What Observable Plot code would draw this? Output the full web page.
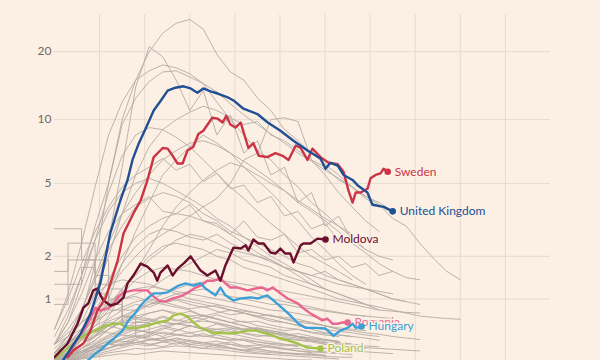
<!DOCTYPE html>
<html><head><meta charset="utf-8">
<script src="https://cdn.jsdelivr.net/npm/d3@7"></script>
<script src="https://cdn.jsdelivr.net/npm/@observablehq/plot@0.6"></script>
<style>
html,body{margin:0;padding:0;background:#fcf0e5;}
</style></head><body><div id="chart"></div>
<script>
// axis ticks
const yTicks = [1, 2, 5, 10, 20];
const xGrid = [10, 20, 30, 40, 50, 60, 70, 80, 90, 100];

// highlighted countries: days since start, daily deaths per million (7-day avg)
const ukDays = [1.8,4.0,5.8,8.0,10.2,12.4,14.6,16.2,17.3,18.6,20,22,23.6,25.1,26.8,28.6,30.2,31.7,33,34.6,36.2,38.4,39.7,41.9,45,47.3,50.1,53,56.1,59,60.1,61.2,62.8,64.1,66.1,67.2,69.4,70.5,73,75];
const ukValues = [0.11,0.28,0.44,0.74,1.34,2.76,4.1,5.2,6.5,7.7,8.9,11.0,12.2,13.5,13.9,14.1,13.8,13.2,13.8,13.4,13.1,12.6,12.2,11.2,10.6,9.7,8.9,8.0,7.2,6.6,5.9,6.3,6.1,5.5,5.2,4.9,4.5,3.9,3.8,3.6];

const swedenDays = [2.9,4.2,6.4,8.0,9.5,11.3,12.4,14.0,15.3,17.5,19.1,20.6,22.0,24.0,25.1,26.2,27.3,28.4,29.5,30.8,31.9,33.0,35.0,36.2,37.3,38.1,39.0,40.1,41.3,43.0,44.1,45.3,47.2,49.0,50.6,51.9,53.5,54.6,56.1,57.2,59.0,60.8,62.8,64.1,65.2,66.1,66.8,67.9,69.4,70.1,71.2,72.3,73.0,73.9];
const swedenValues = [0.15,0.225,0.31,0.48,0.79,1.01,1.32,1.88,2.73,3.51,4.1,5.17,6.7,7.4,7.35,6.8,6.25,6.25,7.2,7.5,8.6,8.9,10.2,10.1,9.7,10.4,9.5,9.2,9.7,7.4,7.8,6.8,6.7,7.0,6.8,6.5,7.6,7.4,6.5,7.35,6.7,6.3,6.2,5.7,4.6,4.0,4.5,4.5,4.7,5.3,5.5,5.6,5.9,5.7];

const moldovaDays = [0,2.9,5.1,6.4,7.5,8.6,9.5,10.2,10.9,12.4,14,15.3,16.2,17.5,19.1,20.6,22,22.8,23.5,25.1,26.2,27.3,28.6,30.2,31.3,32.4,33.9,35.7,36.8,37.9,39.7,41.3,42.4,43,44.1,45.2,46.4,47.9,49,50.1,51.2,52.3,53,54.6,55.2,56.8,58.3,60.1];
const moldovaValues = [0.15,0.31,0.58,0.84,0.92,1.17,1.21,1.07,0.97,0.88,0.92,1.03,1.32,1.50,1.80,1.72,1.57,1.38,1.57,1.75,1.50,1.67,1.80,2.0,1.80,1.62,1.50,1.62,1.38,1.75,2.26,2.23,2.33,2.17,2.52,2.39,2.39,2.11,2.08,2.23,2.08,2.08,1.83,2.33,2.39,2.39,2.55,2.52];

const romaniaDays = [2.9,4.2,5.3,6.4,7.5,8.6,9.1,10.2,11.8,12.9,14.0,15.3,17.5,20.6,21.7,23.1,24.6,26.2,27.9,29.7,31.3,32.4,33.9,35.3,36.8,37.9,39.0,40.6,42.8,44.6,46.1,47.2,48.4,50.1,51.7,53.9,55.2,56.8,58.3,59.4,60.5,61.7,62.8,63.9,65.0];
const romaniaValues = [0.15,0.28,0.39,0.48,0.60,0.76,0.84,0.79,0.83,0.88,1.03,1.13,1.17,1.17,1.07,0.97,0.95,1.01,1.05,1.13,1.23,1.27,1.38,1.38,1.43,1.32,1.23,1.23,1.17,1.21,1.23,1.17,1.23,1.11,1.01,0.92,0.83,0.74,0.68,0.63,0.66,0.58,0.58,0.60,0.60];

const hungaryDays = [7.3,8.6,10.6,11.8,13.1,15.1,16.4,18.0,19.1,20.6,22.0,23.5,25.1,26.4,27.5,29.1,30.8,32.4,33.5,35.7,36.8,37.9,39.7,41.3,43.5,45.2,47.2,48.6,50.6,52.3,54.1,55.7,57.9,60.1,61.9,63.4,65.0,66.1,66.8,68.1];
const hungaryValues = [0.11,0.17,0.25,0.31,0.37,0.48,0.63,0.76,0.88,1.01,1.11,1.11,1.13,1.21,1.27,1.32,1.27,1.32,1.21,1.07,1.23,1.07,0.97,1.01,1.03,1.01,1.07,0.97,0.83,0.71,0.58,0.52,0.52,0.51,0.41,0.48,0.52,0.58,0.52,0.54];

const polandDays = [0.2,2.9,5.1,7.3,9.1,11.3,12.9,14.6,16.2,18.4,20.6,22.8,25.1,26.4,27.9,29.5,30.8,32.4,33.9,35.3,36.8,39.0,40.6,42.8,44.6,46.4,48.6,50.1,51.7,53.9,56.1,59.0];
const polandValues = [0.14,0.25,0.35,0.44,0.48,0.55,0.58,0.58,0.52,0.52,0.55,0.60,0.63,0.71,0.74,0.69,0.60,0.52,0.48,0.44,0.45,0.44,0.45,0.48,0.48,0.45,0.41,0.37,0.35,0.31,0.26,0.25];

// other countries, one value every 3 days from day 0
const grayStep = 3;
const graySeries = [
  [0.15,0.3,0.7,1.8,5.0,10,15,20,24,26.5,27.5,25,19.5,16.3,15,12.5,11,9,8,7,6.2,5.5,4.8,4.3,3.9,3.3,3.0,2.4,1.95,1.6,1.4],
  [0.12,0.2,0.4,1.0,2.5,6,14,21,19,15,11,13.5,8.5,10.5,7,8,5.5,6,4,4.5,3,3.4,2.5,2.2],
  [0.3,0.7,1.5,3.0,5.0,9.5,12.5,14.8,16.3,16.5,15.5,14.5,13.3,11.8,10.5,9.5,8.6,7.8,7.0,6.4,5.8,5.3,4.8,4.3,4.0,3.6],
  [0.5,1.1,2.4,4.8,8.5,12,15,16.5,17.5,17,16,14.5,12,10,8.5,7.2,6.5,5.5,4.8,4.0,3.5,3.0,2.6],
  [0.2,0.35,0.6,1.1,2.0,3.5,5.5,7.5,9.0,10.0,10.8,11.5,11.0,10.2,9.5,9.8,8.5,8.0,7.2,6.5,6.0,5.2,4.8,4.2,3.8],
  [0.3,0.6,1.3,2.5,4.5,6.8,8.5,9.2,9.0,8.3,7.5,6.5,5.6,4.8,4.2,3.6,3.1,2.7,2.3,2.0,1.8,1.6,1.4],
  [0.15,0.2,0.35,0.6,1.0,1.8,2.8,4.0,5.5,6.5,7.5,8.5,7.8,7.0,6.0,5.2,4.5,3.8,3.2,2.6,2.2,1.8,1.5,1.3],
  [0.5,1.0,1.8,2.8,3.8,4.8,5.5,6.0,6.6,5.8,6.2,5.1,5.6,4.7,4.9,4.0,4.3,3.4,3.6,2.9,3.1,2.5,2.6,2.2,2.0,1.9],
  [0.2,0.4,0.8,1.5,2.4,3.5,4.5,5.5,6.5,7.2,7.8,8.0,7.6,7.0,6.4,5.8,5.2,4.6,4.1,3.7,3.3,3.0,2.7],
  [0.3,0.6,1.1,1.9,2.8,3.5,3.9,4.3,3.6,3.5,3.9,3.2,3.1,2.7,3.2,2.6,2.5,2.7,2.1,2.2,1.9,2.0,1.7,1.8,1.5,1.6,1.45,1.4],
  [0.2,0.3,0.5,0.8,1.2,1.6,2.0,2.4,2.7,3.0,3.4,3.8,4.2,5.0,6.5,7.0,10.0,10.2,9.8,6.5,5.5,4.5,3.8,3.2,2.8],
  [0.4,0.8,1.5,2.5,3.6,4.5,5.0,5.3,5.0,4.6,4.2,3.8,3.3,3.0,2.6,2.3,2.0,1.8,1.6,1.4,1.2,1.1,1.0,0.9,0.8],
  [0.2,0.4,0.8,1.4,2.2,3.0,3.8,4.2,4.5,4.3,4.0,3.5,3.2,2.8,2.6,2.4,2.2,2.0,1.8,1.7,1.5,1.4,1.3,1.2,1.1,1.0,0.95,0.9],
  [0.15,0.3,0.5,0.9,1.4,2.0,2.6,3.0,3.3,3.5,3.4,3.2,3.0,2.7,2.4,2.1,1.9,1.7,1.5,1.3,1.2,1.1,1.0,0.9,0.85,0.8,0.75,0.7,0.68,0.66,0.65],
  [0.1,0.2,0.4,0.7,1.2,1.8,2.3,2.7,2.9,2.8,2.6,2.5,2.7,2.4,2.2,2.0,1.9,1.7,1.6,1.5,1.6,1.4,1.3,1.2,1.1,1.0,0.95],
  [0.1,0.15,0.25,0.4,0.7,1.1,1.6,2.2,3.0,3.8,4.5,5.2,5.8,6.3,6.0,5.5,5.0,4.6,4.0,3.6,3.2,2.8,2.4,2.1,1.8,1.6],
  [0.1,0.15,0.25,0.35,0.5,0.6,0.7,0.75,0.8,0.75,0.7,0.72,0.65,0.6,0.55,0.5,0.48,0.45,0.4,0.38,0.35,0.33,0.3],
  [0.12,0.2,0.3,0.45,0.55,0.5,0.6,0.65,0.55,0.5,0.45,0.4,0.42,0.38,0.35,0.3,0.28,0.25,0.22,0.2],
  [0.15,0.3,0.5,0.7,0.9,1.0,1.05,0.95,0.9,0.85,0.8,0.7,0.65,0.6,0.55,0.5,0.45,0.42,0.4,0.35,0.3,0.28],
  [0.1,0.12,0.18,0.25,0.3,0.38,0.45,0.5,0.55,0.58,0.6,0.62,0.6,0.55,0.5,0.52,0.48,0.44,0.4,0.36,0.33,0.3,0.27,0.25],
  [0.2,0.35,0.4,0.5,0.45,0.42,0.4,0.36,0.38,0.33,0.3,0.32,0.28,0.25,0.22,0.2,0.18],
  [0.1,0.18,0.3,0.42,0.55,0.7,0.8,0.9,0.95,1.0,0.95,0.9,0.85,0.8,0.75,0.7,0.65,0.6,0.55,0.5,0.45,0.42,0.4,0.38,0.35],
  [0.12,0.16,0.22,0.28,0.33,0.36,0.4,0.38,0.35,0.37,0.33,0.3,0.28,0.3,0.26,0.24,0.22,0.2,0.19,0.18,0.17],
  [0.3,0.5,0.8,1.1,1.3,1.4,1.35,1.3,1.2,1.1,1.0,0.95,0.9,0.85,0.8,0.75,0.7,0.66,0.62,0.6,0.55,0.52,0.5,0.48],
  [0.1,0.13,0.17,0.22,0.26,0.3,0.32,0.35,0.38,0.42,0.45,0.48,0.5,0.52,0.5,0.47,0.45,0.43,0.4,0.38,0.36,0.33],
  [0.15,0.25,0.38,0.5,0.62,0.7,0.68,0.66,0.6,0.58,0.55,0.5,0.47,0.44,0.4,0.36,0.33,0.3,0.27],
  [0.1,0.2,0.35,0.55,0.8,1.1,1.4,1.6,1.7,1.65,1.6,1.5,1.4,1.3,1.2,1.1,1.0,0.95,0.9,0.85,0.8,0.76,0.72,0.7,0.68,0.66],
  [0.25,0.4,0.6,0.8,0.95,1.1,1.2,1.25,1.2,1.15,1.1,1.05,1.0,0.95,0.9,0.85,0.8,0.78,0.74,0.7,0.65],
  [0.1,0.14,0.2,0.3,0.4,0.48,0.55,0.58,0.6,0.58,0.55,0.52,0.5,0.47,0.45,0.42,0.4,0.38,0.36,0.34,0.32,0.3,0.28,0.26,0.25,0.24,0.23,0.22],
  [0.18,0.28,0.4,0.6,0.85,1.2,1.6,2.0,2.3,2.4,2.3,2.2,2.0,1.9,1.7,1.6,1.5,1.4,1.3,1.2,1.1,1.0,0.95,0.9],
  [0.12,0.18,0.25,0.32,0.42,0.5,0.48,0.46,0.44,0.42,0.4,0.41,0.38,0.36,0.35,0.33,0.31,0.3,0.29,0.28],
  [0.2,0.3,0.45,0.65,0.9,1.2,1.5,1.9,2.2,2.5,2.7,2.6,2.4,2.2,2.1,2.0,1.85,1.7,1.6,1.5,1.4,1.3,1.25,1.2,1.15,1.1],
  [0.15,0.22,0.3,0.4,0.5,0.62,0.75,0.9,1.0,1.1,1.15,1.2,1.1,1.05,1.0,0.95,0.9,0.9,0.85,0.82,0.78,0.75,0.72,0.7],
  [0.1,0.15,0.25,0.35,0.5,0.65,0.8,0.95,1.1,1.2,1.3,1.35,1.4,1.35,1.3,1.25,1.2,1.15,1.1,1.05,1.0,0.95,0.9,0.85,0.8,0.78,0.76,0.75],
  [0.1,0.12,0.15,0.2,0.25,0.3,0.36,0.42,0.5,0.58,0.65,0.7,0.75,0.8,0.78,0.75,0.7,0.68,0.65,0.6,0.55,0.5],
  [0.3,0.45,0.6,0.75,0.9,1.0,1.1,1.2,1.4,1.6,1.8,2.0,2.2,2.1,1.9,1.8,1.7,1.5,1.4,1.3,1.2],
  [0.1,0.12,0.14,0.16,0.2,0.22,0.25,0.24,0.26,0.28,0.27,0.25,0.24,0.22,0.2,0.19,0.18,0.17,0.16,0.15,0.14,0.13],
  [0.1,0.11,0.13,0.15,0.17,0.19,0.18,0.2,0.22,0.21,0.2,0.19,0.18,0.17,0.16,0.15,0.14,0.13,0.12,0.12],
  [0.14,0.18,0.22,0.27,0.3,0.34,0.32,0.3,0.33,0.35,0.3,0.28,0.26,0.25,0.23,0.22,0.2,0.19,0.18,0.17,0.16,0.15,0.15],
  [0.1,0.15,0.2,0.24,0.3,0.28,0.35,0.3,0.27,0.32,0.28,0.25,0.3,0.26,0.23,0.25,0.21,0.2,0.18,0.19,0.17],
  [0.1,0.14,0.2,0.28,0.35,0.42,0.5,0.45,0.52,0.48,0.55,0.5,0.46,0.5,0.44,0.4,0.42,0.37,0.35,0.33,0.3,0.32,0.28,0.26],
  [0.12,0.2,0.3,0.4,0.55,0.7,0.65,0.75,0.8,0.72,0.78,0.7,0.66,0.6,0.62,0.55,0.52,0.48,0.5,0.45,0.42,0.4],
  [0.1,0.12,0.16,0.2,0.25,0.32,0.38,0.45,0.4,0.48,0.55,0.5,0.58,0.52,0.48,0.5,0.45,0.4,0.38,0.35,0.36,0.32,0.3,0.28,0.27],
  [0.15,0.25,0.35,0.48,0.6,0.58,0.66,0.62,0.7,0.64,0.6,0.65,0.58,0.55,0.5,0.52,0.46,0.42,0.44,0.4,0.36,0.34],
  [0.1,0.11,0.14,0.18,0.22,0.26,0.3,0.28,0.33,0.3,0.35,0.32,0.3,0.33,0.28,0.26,0.27,0.24,0.22,0.21,0.2,0.19,0.18],
  [0.2,0.3,0.42,0.55,0.65,0.8,0.9,0.85,0.95,0.88,0.82,0.86,0.78,0.72,0.75,0.68,0.62,0.6,0.56,0.52,0.5,0.47,0.45,0.42,0.4],
  [0.1,0.13,0.18,0.24,0.3,0.36,0.42,0.4,0.46,0.43,0.4,0.44,0.38,0.35,0.37,0.33,0.3,0.28,0.29,0.26,0.25,0.23,0.22,0.21,0.2,0.19],
  [0.3,0.4,0.5,0.62,0.75,0.85,0.95,1.0,0.92,0.98,0.9,0.85,0.88,0.8,0.75,0.7,0.72,0.65,0.6,0.58,0.55,0.5,0.48,0.45,0.43,0.4,0.38,0.36],
  [0.1,0.15,0.22,0.3,0.38,0.45,0.52,0.6,0.68,0.62,0.7,0.65,0.72,0.66,0.6,0.62,0.56,0.52,0.5,0.46,0.44,0.42,0.4],
  [0.12,0.16,0.2,0.25,0.3,0.28,0.32,0.36,0.34,0.38,0.35,0.32,0.34,0.3,0.28,0.29,0.26,0.24,0.25,0.22,0.21,0.2]
];
// small countries reported in steps
const stepSeries = [
  [2.9,2.9,1.9,1.9,1.2,0.8,0.6,0.4],
  [1.6,2.4,2.4,1.5,1.0,0.7,0.5],
  [1.3,1.3,1.7,1.1,0.8,0.55,0.4],
  [0.9,1.9,1.9,1.3,0.9,0.6,0.45]
];

const bg = "#fcf0e5";
const grayColor = "#b4aba4";

const toRows = (arr) => arr.flatMap((vals, k) => vals.map((v, i) => ({id: k, day: i * grayStep, value: v})));
const grayRows = toRows(graySeries);
const stepRows = toRows(stepSeries);

const countries = [
  {name: "Poland", color: "#a3c24a", days: polandDays, values: polandValues},
  {name: "Romania", color: "#e8668f", days: romaniaDays, values: romaniaValues},
  {name: "Hungary", color: "#3c9fd7", days: hungaryDays, values: hungaryValues},
  {name: "Moldova", color: "#6b0f2c", days: moldovaDays, values: moldovaValues},
  {name: "Sweden", color: "#cb3444", days: swedenDays, values: swedenValues},
  {name: "United Kingdom", color: "#204f93", days: ukDays, values: ukValues}
];

const countryMarks = countries.flatMap(c => {
  const rows = c.days.map((d, i) => ({day: d, value: c.values[i]}));
  const last = [rows[rows.length - 1]];
  return [
    Plot.line(rows, {x: "day", y: "value", stroke: c.color, strokeWidth: 2.4, strokeLinejoin: "round", clip: true}),
    Plot.dot(last, {x: "day", y: "value", r: 3.3, fill: c.color}),
    Plot.text(last, {x: "day", y: "value", text: () => c.name, dx: 7, textAnchor: "start", fill: c.color, stroke: bg, strokeWidth: 3, fontSize: 12})
  ];
});

const chart = Plot.plot({
  width: 600,
  height: 360,
  marginLeft: 54,
  marginRight: 50,
  marginTop: 14,
  marginBottom: 0,
  style: {background: bg, fontFamily: "Lato, 'Noto Sans', sans-serif", fontSize: "12px", overflow: "visible"},
  x: {domain: [0, 110], axis: null},
  y: {type: "symlog", constant: 1, domain: [0.1145, 28.88], axis: null},
  marks: [
    Plot.ruleX(xGrid, {stroke: "#e5dad0", strokeWidth: 1}),
    Plot.ruleY(yTicks, {stroke: "#e5dad0", strokeWidth: 1}),
    Plot.axisY(yTicks, {tickSize: 0, tickPadding: 3, fill: "#6e6863", fontSize: 12, label: null, tickFormat: d => String(d)}),
    Plot.line(grayRows, {x: "day", y: "value", z: "id", stroke: grayColor, strokeWidth: 0.9, clip: true}),
    Plot.line(stepRows, {x: "day", y: "value", z: "id", stroke: grayColor, strokeWidth: 0.9, curve: "step-after", clip: true}),
    ...countryMarks
  ]
});
document.getElementById("chart").appendChild(chart);
</script>
</body></html>
